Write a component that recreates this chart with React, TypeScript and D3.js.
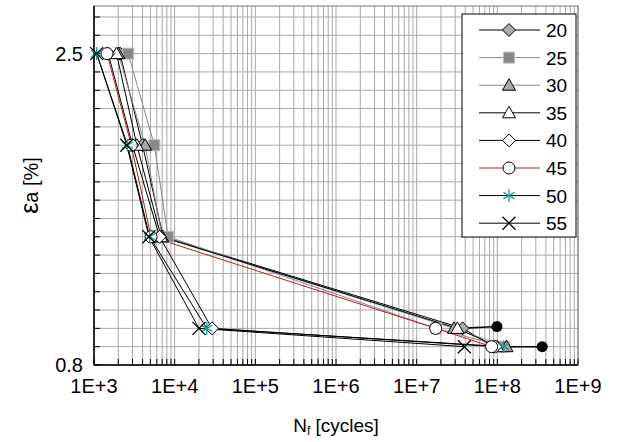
import React from 'react';
import * as d3 from 'd3';

// strain amplitude levels [%]
const levels = [2.5, 2.0, 1.5, 1.0, 0.9];

// cycles to failure per series (same order as levels)
const series = [
  { name: '20', cycles: [2100, 4000, 7200, 3.7e7, 9.0e7], line: '#000', marker: 'diamond', fill: '#aaa', stroke: '#000' },
  { name: '25', cycles: [2650, 5600, 8300, 1.75e7, 1.2e8], line: '#888', marker: 'square', fill: '#888', stroke: '#bbb' },
  { name: '30', cycles: [2000, 4300, 7000, 2.9e7, 1.3e8], line: '#888', marker: 'triangle', fill: '#aaa', stroke: '#000' },
  { name: '35', cycles: [1900, 3400, 6800, 3.2e7, 1.0e8], line: '#000', marker: 'triangle', fill: '#fff', stroke: '#000' },
  { name: '40', cycles: [1500, 3000, 6500, 29000, 9.5e7], line: '#000', marker: 'diamond', fill: '#fff', stroke: '#000' },
  { name: '45', cycles: [1450, 2900, 5100, 1.72e7, 8.5e7], line: '#b22222', marker: 'circle', fill: '#fff', stroke: '#000' },
  { name: '50', cycles: [1080, 2600, 4900, 25000, 1.2e8], line: '#000', marker: 'asterisk', fill: 'none', stroke: '#1a9a9a' },
  { name: '55', cycles: [1080, 2550, 4800, 20000, 3.9e7], line: '#000', marker: 'times', fill: 'none', stroke: '#000' },
];

// run-out points (filled black) joined to last failures
const runouts = [
  { from: [3.7e7, 1.0], to: [9.9e7, 1.01] },
  { from: [1.3e8, 0.9], to: [3.6e8, 0.9] },
];

const xTicks = [1e3, 1e4, 1e5, 1e6, 1e7, 1e8, 1e9];
const xTickLabels = ['1E+3', '1E+4', '1E+5', '1E+6', '1E+7', '1E+8', '1E+9'];
const yTickLabels = [2.5, 0.8];

const W = 622, H = 442;
const margin = { left: 94, right: 44, top: 6, bottom: 77 };

// marker outlines, centred on 0,0
function markerPath(type: string): string {
  const p = d3.path();
  if (type === 'diamond') {
    const r = 6.5;
    p.moveTo(0, -r); p.lineTo(r, 0); p.lineTo(0, r); p.lineTo(-r, 0); p.closePath();
  } else if (type === 'square') {
    const r = 5.5;
    p.rect(-r, -r, 2 * r, 2 * r);
  } else if (type === 'triangle') {
    p.moveTo(0, -6.5); p.lineTo(6.5, 5); p.lineTo(-6.5, 5); p.closePath();
  } else if (type === 'circle') {
    p.arc(0, 0, 6, 0, 2 * Math.PI);
  } else if (type === 'asterisk') {
    const r = 6.5;
    for (let k = 0; k < 3; k++) {
      const a = Math.PI / 2 + (k * Math.PI) / 3;
      p.moveTo(r * Math.cos(a), r * Math.sin(a));
      p.lineTo(-r * Math.cos(a), -r * Math.sin(a));
    }
  } else if (type === 'times') {
    const r = 6.5;
    p.moveTo(-r, -r); p.lineTo(r, r);
    p.moveTo(r, -r); p.lineTo(-r, r);
  }
  return p.toString();
}

function Marker({ type, fill, stroke, x, y }: any) {
  const open = type === 'asterisk' || type === 'times';
  return (
    <path
      d={markerPath(type)}
      transform={`translate(${x},${y})`}
      fill={open ? 'none' : fill}
      stroke={stroke}
      strokeWidth={open ? 1.3 : 1}
    />
  );
}

export default function App() {
  const x = d3.scaleLog().domain([1e3, 1e9]).range([margin.left, W - margin.right]);
  const y = d3.scaleLinear().domain([0.8, 2.76]).range([H - margin.bottom, margin.top]);
  const x0 = margin.left, x1 = W - margin.right, y0 = H - margin.bottom, y1 = margin.top;

  // minor grid on log axis
  const xGrid: number[] = [];
  for (let e = 3; e < 9; e++) {
    for (let m = 1; m < 10; m++) xGrid.push(m * Math.pow(10, e));
  }
  xGrid.push(1e9);
  const yGrid = d3.range(8, 28).map((d) => d / 10);

  const line = d3.line<[number, number]>().x((d) => x(d[0])).y((d) => y(d[1]));
  const font = 'Liberation Sans, Arial, sans-serif';

  return (
    <div style={{ position: 'absolute', left: 0, top: 0 }}>
      <svg width={W} height={H} style={{ display: 'block', background: '#fff' }} fontFamily={font}>
        {/* grid */}
        {xGrid.map((v, i) => (
          <line key={'gx' + i} x1={x(v)} x2={x(v)} y1={y1} y2={y0} stroke="#a8a8a8" strokeWidth={1} />
        ))}
        {yGrid.map((v, i) => (
          <line key={'gy' + i} x1={x0} x2={x1} y1={y(v)} y2={y(v)} stroke="#a8a8a8" strokeWidth={1} />
        ))}
        {/* frame */}
        <rect x={x0} y={y1} width={x1 - x0} height={y0 - y1} fill="none" stroke="#777" strokeWidth={1} />
        <line x1={x0} x2={x0} y1={y1} y2={y0} stroke="#000" strokeWidth={1.5} />
        <line x1={x0} x2={x1} y1={y0} y2={y0} stroke="#000" strokeWidth={1.5} />
        {/* ticks */}
        {yGrid.map((v, i) => (
          <line key={'ty' + i} x1={x0} x2={x0 + 6} y1={y(v)} y2={y(v)} stroke="#000" />
        ))}
        {xGrid.map((v, i) => (
          <line key={'tx' + i} x1={x(v)} x2={x(v)} y1={y0} y2={y0 - 6} stroke="#000" />
        ))}

        {/* series lines */}
        {series.map((s) => (
          <path
            key={'l' + s.name}
            d={line(s.cycles.map((c, i) => [c, levels[i]] as [number, number])) as string}
            fill="none"
            stroke={s.line}
            strokeWidth={1}
          />
        ))}
        {runouts.map((r, i) => (
          <path key={'r' + i} d={line([r.from as [number, number], r.to as [number, number]]) as string} stroke="#000" strokeWidth={1.5} fill="none" />
        ))}
        {/* markers */}
        {series.map((s) =>
          s.cycles.map((c, i) => (
            <Marker key={'m' + s.name + i} type={s.marker} fill={s.fill} stroke={s.stroke} x={x(c)} y={y(levels[i])} />
          ))
        )}
        {runouts.map((r, i) => (
          <circle key={'rc' + i} cx={x(r.to[0])} cy={y(r.to[1])} r={5.5} fill="#000" />
        ))}

        {/* axis labels */}
        {xTicks.map((v, i) => (
          <text key={'xl' + i} x={x(v)} y={y0 + 28} textAnchor="middle" fontSize={20}>
            {xTickLabels[i]}
          </text>
        ))}
        {yTickLabels.map((v, i) => (
          <text key={'yl' + i} x={x0 - 11} y={y(v) + 7} textAnchor="end" fontSize={20}>
            {v.toFixed(1)}
          </text>
        ))}
        <text x={(x0 + x1) / 2} y={432} textAnchor="middle" fontSize={19}>
          N<tspan fontSize={12} dy={3}>f</tspan>
          <tspan dy={-3}> [cycles]</tspan>
        </text>
        <text transform={`translate(38,${(y0 + y1) / 2}) rotate(-90)`} textAnchor="middle" fontSize={20}>
          <tspan fontSize={25}>ε</tspan>a [%]
        </text>

        {/* legend */}
        <g>
          <rect x={462} y={14} width={114} height={223} fill="#fff" stroke="#000" strokeWidth={1} />
          {series.map((s, i) => {
            const ly = 30 + i * 27.6;
            return (
              <g key={'lg' + s.name}>
                <line x1={479} x2={540} y1={ly} y2={ly} stroke={s.line} strokeWidth={1} />
                <Marker type={s.marker} fill={s.fill} stroke={s.stroke} x={509} y={ly} />
                <text x={546} y={ly + 7} fontSize={19}>
                  {s.name}
                </text>
              </g>
            );
          })}
        </g>
      </svg>
    </div>
  );
}
